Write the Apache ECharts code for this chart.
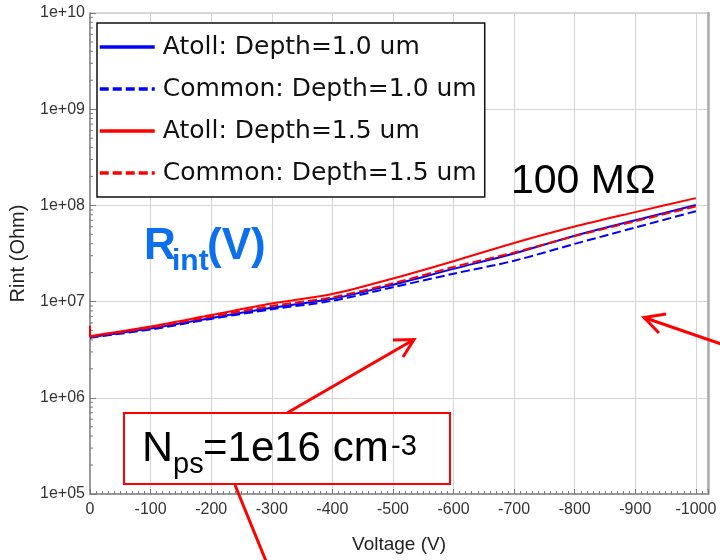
<!DOCTYPE html>
<html>
<head>
<meta charset="utf-8">
<script src="https://cdn.jsdelivr.net/npm/echarts@6/dist/echarts.min.js"></script>
<style>html,body{margin:0;padding:0;background:#fff;}#c{width:720px;height:560px;}</style>
</head>
<body>
<div id="c"></div>
<script>
// ---- data ----
const voltage = [0, -100, -200, -300, -400, -500, -600, -700, -800, -900, -1000];
const atoll10 = [4.27e6, 5.25e6, 6.76e6, 8.61e6, 1.07e7, 1.50e7, 2.19e7, 3.16e7, 4.84e7, 7.00e7, 1.01e8];
const common10 = [4.22e6, 5.13e6, 6.61e6, 8.32e6, 1.02e7, 1.41e7, 1.95e7, 2.66e7, 3.98e7, 5.89e7, 8.71e7];
const atoll15 = [4.37e6, 5.50e6, 7.24e6, 9.55e6, 1.20e7, 1.74e7, 2.63e7, 4.07e7, 6.03e7, 8.51e7, 1.19e8];
const common15 = [4.32e6, 5.37e6, 7.00e6, 9.02e6, 1.11e7, 1.55e7, 2.29e7, 3.24e7, 4.79e7, 6.84e7, 9.77e7];
const atoll15SpikeV = 0;
const atoll15SpikeR = 5.6e6;
const seriesNames = ['Atoll: Depth=1.0 um', 'Common: Depth=1.0 um', 'Atoll: Depth=1.5 um', 'Common: Depth=1.5 um'];
const yMinorTickValues = [];
for (let e = 5; e < 10; e++) for (let k = 2; k <= 9; k++) yMinorTickValues.push(k * Math.pow(10, e));

// ---- build ----
const toPts = (vs, rs) => vs.map((v, i) => [-v, rs[i]]);
const chart = echarts.init(document.getElementById('c'), null, {renderer: 'canvas'});
const BLUE = '#0000ff', RED = '#ff0000';
const dash = [9, 4];
const lineSeries = (name, data, color, dashed) => ({
  name, type: 'line', data, symbol: 'none', showSymbol: false,
  smooth: 0.3,
  lineStyle: {color, width: 2, type: dashed ? dash : 'solid'},
  itemStyle: {color}, emphasis: {disabled: true}, animation: false
});
const red15 = [[-atoll15SpikeV, atoll15SpikeR]].concat(toPts(voltage, atoll15));

const option = {
  animation: false,
  backgroundColor: '#fff',
  textStyle: {fontFamily: 'Liberation Sans, Arial, sans-serif'},
  grid: {left: 87, top: 13, width: 621, height: 481, show: true, borderColor: '#b5b5b5', borderWidth: 1, containLabel: false},
  xAxis: {
    type: 'value', min: 0, max: 1020, interval: 100,
    name: 'Voltage (V)', nameLocation: 'middle', nameGap: 41,
    nameTextStyle: {fontSize: 19, color: '#222', fontFamily: 'Liberation Sans'},
    axisLine: {show: true, lineStyle: {color: '#9a9a9a', width: 2}},
    axisTick: {show: true, inside: true, length: 5, lineStyle: {color: '#777'}},
    minorTick: {show: true, splitNumber: 10, length: 3, lineStyle: {color: '#777'}},
    axisLabel: {fontSize: 16, color: '#333', margin: 8, fontFamily: 'Liberation Sans',
      formatter: v => v === 0 ? '0' : '-' + v},
    splitLine: {show: true, lineStyle: {color: '#d4d4d4', width: 1}}
  },
  yAxis: [{
    type: 'log', logBase: 10, min: 1e5, max: 1e10, splitNumber: 5,
    name: 'Rint (Ohm)', nameLocation: 'middle', nameGap: 62,
    nameTextStyle: {fontSize: 20, color: '#222', fontFamily: 'Liberation Sans'},
    axisLine: {show: true, lineStyle: {color: '#9a9a9a', width: 2}},
    axisTick: {show: true, inside: true, length: 6, lineStyle: {color: '#777'}},
    axisLabel: {fontSize: 16, color: '#333', margin: 5, fontFamily: 'Liberation Sans',
      formatter: v => '1e+' + String(Math.round(Math.log10(v))).padStart(2, '0')},
    splitLine: {show: true, lineStyle: {color: '#d4d4d4', width: 1}}
  }, {
    type: 'log', logBase: 10, min: 1e5, max: 1e10, position: 'right',
    axisLine: {show: true, lineStyle: {color: '#ababab', width: 2.5}},
    axisTick: {show: false}, axisLabel: {show: false}, splitLine: {show: false}
  }],
  legend: {
    data: seriesNames, orient: 'vertical', left: 97, top: 23,
    backgroundColor: '#fff', borderColor: '#111', borderWidth: 1.5,
    padding: [9, 8, 9, 1], itemGap: 12, itemWidth: 55, itemHeight: 2,
    lineStyle: {width: 3.5},
    itemStyle: {opacity: 0, borderWidth: 0},
    textStyle: {fontSize: 25, color: '#111', fontFamily: 'DejaVu Sans', lineHeight: 30, padding: [0, 0, 0, 3]},
    selectedMode: false
  },
  series: [
    lineSeries(seriesNames[0], toPts(voltage, atoll10), BLUE, false),
    lineSeries(seriesNames[1], toPts(voltage, common10), BLUE, true),
    lineSeries(seriesNames[2], red15, RED, false),
    lineSeries(seriesNames[3], toPts(voltage, common15), RED, true),
    {
      type: 'custom', silent: true, clip: false, z: 3,
      data: yMinorTickValues.map(v => [0, v]),
      renderItem: (params, api) => {
        const p = api.coord([0, api.value(1)]);
        return {type: 'line', shape: {x1: p[0], y1: p[1], x2: p[0] + 3, y2: p[1]}, style: {stroke: '#777', lineWidth: 1}};
      }
    }
  ],
  graphic: [
    {type: 'text', z: 100, style: {x: 511, y: 182, text: '100 MΩ', font: '41px "Liberation Sans"', fill: '#000', verticalAlign: 'middle'}},
    {type: 'text', z: 100, style: {x: 144, y: 247, text: 'R', font: 'bold 44px "Liberation Sans"', fill: '#0b6ff0', verticalAlign: 'middle'}},
    {type: 'text', z: 100, style: {x: 172, y: 262, text: 'int', font: 'bold 30px "Liberation Sans"', fill: '#0b6ff0', verticalAlign: 'middle'}},
    {type: 'text', z: 100, style: {x: 207, y: 247, text: '(V)', font: 'bold 44px "Liberation Sans"', fill: '#0b6ff0', verticalAlign: 'middle'}},
    {type: 'rect', z: 100, shape: {x: 124, y: 413, width: 326, height: 71}, style: {fill: 'none', stroke: RED, lineWidth: 2}},
    {type: 'text', z: 100, style: {x: 142, y: 449.5, text: 'N', font: '43px "Liberation Sans"', fill: '#000', verticalAlign: 'middle'}},
    {type: 'text', z: 100, style: {x: 173, y: 464.5, text: 'ps', font: '29px "Liberation Sans"', fill: '#000', verticalAlign: 'middle'}},
    {type: 'text', z: 100, style: {x: 203, y: 449.5, text: '=1e16 cm', font: '42px "Liberation Sans"', fill: '#000', verticalAlign: 'middle'}},
    {type: 'text', z: 100, style: {x: 391, y: 447, text: '-3', font: '29px "Liberation Sans"', fill: '#000', verticalAlign: 'middle'}},
    {type: 'line', z: 100, shape: {x1: 287, y1: 413, x2: 414, y2: 339.5}, style: {stroke: RED, lineWidth: 3}},
    {type: 'polyline', z: 100, shape: {points: [[393, 340], [414, 339.5], [403, 357]]}, style: {stroke: RED, lineWidth: 3, fill: 'none'}},
    {type: 'line', z: 100, shape: {x1: 235, y1: 485, x2: 268, y2: 566}, style: {stroke: RED, lineWidth: 3}},
    {type: 'line', z: 100, shape: {x1: 730, y1: 347, x2: 644, y2: 317.5}, style: {stroke: RED, lineWidth: 3}},
    {type: 'polyline', z: 100, shape: {points: [[666, 314], [644, 317.5], [659, 333]]}, style: {stroke: RED, lineWidth: 3, fill: 'none'}}
  ]
};
chart.setOption(option);
</script>
</body>
</html>
